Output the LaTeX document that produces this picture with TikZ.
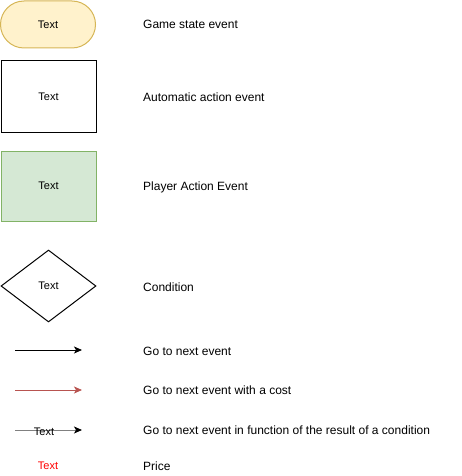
\documentclass[tikz,border=0pt]{standalone}
\usepackage{fontspec}
\setmainfont{Liberation Sans}
\usetikzlibrary{shapes.geometric,arrows.meta}
\definecolor{gsfill}{HTML}{FFF2CC}
\definecolor{gsdraw}{HTML}{D6B656}
\definecolor{pafill}{HTML}{D5E8D4}
\definecolor{padraw}{HTML}{82B366}
\definecolor{costred}{HTML}{B85450}
\definecolor{condgray}{HTML}{808080}
\begin{document}
\begin{tikzpicture}[x=1pt,y=-1pt,
  every node/.style={font=\fontsize{12}{14}\selectfont, inner sep=0pt},
  shapetext/.style={font=\fontsize{11}{13}\selectfont},
  legend/.style={anchor=west, font=\fontsize{12}{14}\selectfont},
  arr/.style={line width=1pt, -{Stealth[length=8pt,width=7pt,inset=2pt]}}]
\useasboundingbox (0,0) rectangle (461,476);
% game state
\node (gs) [draw=gsdraw, fill=gsfill, line width=1pt, rounded corners=23.5pt,
  minimum width=95pt, minimum height=47pt, shapetext] at (48,24.5) {Text};
% automatic
\node (aa) [draw=black, line width=1pt, minimum width=95pt, minimum height=71pt, shapetext] at (48.5,96.5) {Text};
% player action
\node (pa) [draw=padraw, fill=pafill, line width=1pt, minimum width=95pt, minimum height=70pt, shapetext] at (48.5,186) {Text};
% condition
\node (cd) [draw=black, line width=1pt, diamond, minimum width=95pt, minimum height=72pt, aspect=1.32, shapetext] at (48.5,286) {Text};
% arrows
\coordinate (a1s) at (15,350); \coordinate (a1e) at (82,350);
\coordinate (a2s) at (15,390); \coordinate (a2e) at (82,390);
\coordinate (a3s) at (15,430); \coordinate (a3e) at (82,430);
\draw[arr, black] (a1s) -- (a1e);
\draw[arr, costred] (a2s) -- (a2e);
\draw[arr, condgray, -{Stealth[length=8pt,width=7pt,inset=2pt,color=black]}] (a3s) -- (a3e);
\node (a3l) [shapetext] at (44,432) {Text};
\node (pr) [shapetext, text=red] at (48,466) {Text};
% legend labels
\node (l1) [legend] at (143,24) {Game state event};
\node (l2) [legend] at (143,97) {Automatic action event};
\node (l3) [legend] at (143,187) {Player Action Event};
\node (l4) [legend] at (143,287) {Condition};
\node (l5) [legend] at (143,351) {Go to next event};
\node (l6) [legend] at (143,390) {Go to next event with a cost};
\node (l7) [legend] at (143,430) {Go to next event in function of the result of a condition};
\node (l8) [legend] at (143,466) {Price};
\end{tikzpicture}
\end{document}
